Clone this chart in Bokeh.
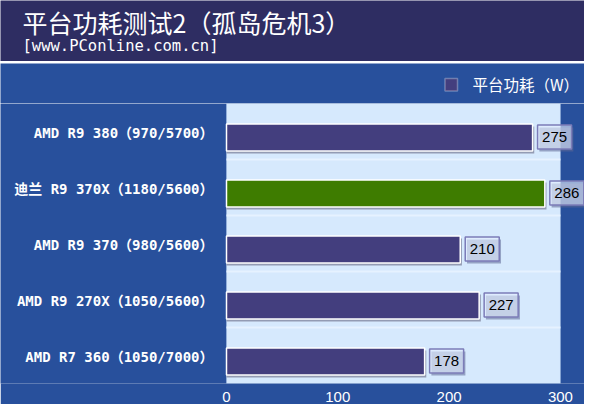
from bokeh.plotting import figure
from bokeh.models import Range1d, FactorRange, FixedTicker, BoxAnnotation, Label, ColumnDataSource
from bokeh.transform import dodge
from bokeh.layouts import column
from bokeh.embed import file_html
from bokeh.resources import INLINE

# ---- data ----
title = "平台功耗测试2（孤岛危机3）"
subtitle = "[www.PConline.com.cn]"
series_name = "平台功耗（W）"
categories = [
    "AMD R9 380（970/5700）",
    "迪兰 R9 370X（1180/5600）",
    "AMD R9 370（980/5600）",
    "AMD R9 270X（1050/5600）",
    "AMD R7 360（1050/7000）",
]
values = [275, 286, 210, 227, 178]
highlight = "迪兰 R9 370X（1180/5600）"
x_ticks = [0, 100, 200, 300]

# ---- styles ----
NAVY = "#2e2d62"
BLUE = "#28509c"
LINE = "#b4c4e8"
PLOT_BG = "#d6e9fd"
PURPLE = "#433e7e"
GREEN = "#3e7c00"
W = 584
LEFT = 226          # page x of the value 0
PX = 1.113          # pixels per data unit on the x axis

bar_colors = [GREEN if c == highlight else PURPLE for c in categories]
src = ColumnDataSource(dict(cat=categories, value=values, color=bar_colors,
                            label=[str(v) for v in values]))


def band(height, color):
    # pixel-unit band: data x = page x, data y = pixels from band bottom
    f = figure(width=W, height=height, x_range=Range1d(0, W),
               y_range=Range1d(0, height), x_axis_location=None, y_axis_location=None,
               min_border=0, output_backend="svg", toolbar_location=None)
    f.grid.visible = False
    f.outline_line_color = None
    f.border_fill_color = color
    f.background_fill_color = color
    return f


# ---- header ----
h = band(61, NAVY)
h.add_layout(Label(x=22, y=39.5, text=title, text_color="white", text_font_size="25px",
                   text_font="Noto Sans CJK SC", text_baseline="middle"))
h.add_layout(Label(x=22, y=16, text=subtitle, text_color="white", text_font_size="15.5px",
                   text_font="DejaVu Sans Mono", text_baseline="middle"))

sep_line = band(2, LINE)

lg = band(40, BLUE)
lg.add_layout(BoxAnnotation(left=444.5, right=457, bottom=12.5, top=25,
                            fill_color=PURPLE, fill_alpha=1, line_color="white", line_width=1.5))
lg.add_layout(Label(x=472, y=19.5, text=series_name, text_color="white",
                    text_font_size="15.5px", text_font="Noto Sans CJK SC", text_baseline="middle"))

# ---- main chart ----
p = figure(width=W, height=301, y_range=FactorRange(factors=categories[::-1]),
           x_range=Range1d(-LEFT / PX, (W - LEFT) / PX), y_axis_location=None,
           min_border_left=0, min_border_right=0, min_border_top=0, min_border_bottom=20,
           output_backend="svg", toolbar_location=None)
p.grid.visible = False
p.outline_line_color = None
p.border_fill_color = BLUE
p.background_fill_color = BLUE
p.add_layout(BoxAnnotation(left=0, right=300, fill_color=PLOT_BG, fill_alpha=1,
                           line_color="#c2dafa", line_width=1, level="underlay"))

# separators between categories
sep = ColumnDataSource(dict(cat=categories[:-1]))
p.segment(x0=0, x1=300, y0=dodge("cat", -0.5, range=p.y_range),
          y1=dodge("cat", -0.5, range=p.y_range), source=sep,
          line_color="#e6f2ff", line_width=2)

BAR_OFF = -0.107
# bar shadow
p.hbar(y=dodge("cat", BAR_OFF - 0.045, range=p.y_range), left=0,
       right=dodge("value", 1.5), height=0.48, source=src,
       fill_color="#939bb3", line_color=None)
# bars
p.hbar(y=dodge("cat", BAR_OFF, range=p.y_range), left=0, right="value", height=0.48,
       source=src, fill_color="color", line_color="white", line_width=1.5)

LBL_DX = 22 / PX
LBL_OFF = -0.098
# label shadow
p.rect(x=dodge("value", LBL_DX + 1.6), y=dodge("cat", LBL_OFF - 0.045, range=p.y_range),
       width=34, height=24, width_units="screen", height_units="screen", source=src,
       fill_color="#5f6796", fill_alpha=0.55, line_color=None)
# label box
p.rect(x=dodge("value", LBL_DX), y=dodge("cat", LBL_OFF, range=p.y_range),
       width=34, height=24, width_units="screen", height_units="screen", source=src,
       fill_color="#e4eeff", fill_alpha=0.6, line_color="#7c7cb8", line_width=1.5)
p.text(x=dodge("value", LBL_DX), y=dodge("cat", LBL_OFF, range=p.y_range), text="label",
       source=src, text_align="center", text_baseline="middle", text_color="black",
       text_font_size="15px", text_font={"value": "Liberation Sans"})

# category labels (left of the value axis origin)
p.text(x=-13 / PX, y=dodge("cat", -0.03, range=p.y_range), text="cat", source=src,
       text_align="right", text_baseline="middle", text_color="white",
       text_font_size="14px", text_font_style="bold",
       text_font={"value": "DejaVu Sans Mono, Noto Sans CJK SC"})

p.xaxis.ticker = FixedTicker(ticks=x_ticks)
p.xaxis.axis_line_color = None
p.xaxis.major_tick_line_color = None
p.xaxis.minor_tick_line_color = None
p.xaxis.major_label_text_color = "white"
p.xaxis.major_label_text_font_size = "15px"
p.xaxis.major_label_text_font = "Liberation Sans"
p.xaxis.major_label_standoff = 2

layout = column(h, sep_line, lg, p, spacing=0)
open("out.html", "w").write(file_html(layout, INLINE))
